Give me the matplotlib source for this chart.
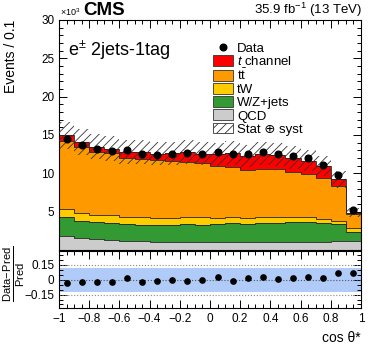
import numpy as np
import matplotlib
matplotlib.use("Agg")
import matplotlib.pyplot as plt
from matplotlib.patches import Patch
from matplotlib.lines import Line2D
from matplotlib.ticker import MultipleLocator, FuncFormatter

plt.rcParams['font.family'] = ['Liberation Sans', 'DejaVu Sans']
plt.rcParams['mathtext.fontset'] = 'custom'
plt.rcParams['mathtext.rm'] = 'Liberation Sans'
plt.rcParams['mathtext.it'] = 'Liberation Sans:italic'
plt.rcParams['hatch.linewidth'] = 0.6

# cos theta* bins (20 bins of 0.1), yields in units of 10^3
edges = np.linspace(-1, 1, 21)
qcd = [1.8, 1.6, 1.45, 1.3, 1.2, 1.1, 1.05, 1.0, 1.0, 1.0,
       1.0, 1.0, 0.98, 0.98, 0.98, 1.0, 1.0, 1.05, 1.1, 1.1]
wzjets = [2.55, 2.2, 2.2, 2.26, 2.18, 2.2, 2.21, 2.3, 2.38, 2.3,
          2.39, 2.45, 2.42, 2.54, 2.57, 2.68, 2.65, 2.45, 2.25, 1.29]
tw = [0.95, 0.98, 0.95, 0.94, 0.88, 0.96, 0.91, 0.9, 0.97, 0.96,
      0.74, 0.81, 0.73, 0.83, 0.71, 0.67, 0.61, 0.54, 0.39, 0.41]
ttbar = [8.9, 8.62, 8.15, 8.1, 7.69, 7.64, 7.53, 7.4, 7.15, 7.12,
         6.82, 6.52, 6.32, 6.15, 6.29, 5.85, 5.64, 5.31, 4.61, 1.85]
tchan = [0.75, 0.64, 0.7, 0.63, 0.82, 0.89, 0.86, 1.01, 1.29, 1.19,
         1.53, 1.87, 1.82, 2.02, 1.88, 1.85, 1.73, 1.54, 0.85, 0.23]
data = [14.43, 13.65, 13.13, 12.95, 13.04, 12.52, 12.43, 12.52, 12.61, 12.48,
        12.78, 12.52, 12.48, 12.82, 12.52, 12.22, 11.96, 11.12, 9.78, 5.22]
rel_unc = [0.12, 0.12, 0.12, 0.12, 0.12, 0.12, 0.12, 0.12, 0.12, 0.12,
           0.12, 0.12, 0.12, 0.12, 0.12, 0.12, 0.12, 0.12, 0.12, 0.12]

procs = [(qcd, '#cccccc', 'QCD'),
         (wzjets, '#339933', 'W/Z+jets'),
         (tw, '#ffcc00', 'tW'),
         (ttbar, '#ff9900', r'$\mathrm{t\bar{t}}$'),
         (tchan, '#ff0000', r'$t$ channel')]

fig = plt.figure(figsize=(3.74, 3.57), dpi=100)
ax = fig.add_axes([0.158, 0.300, 0.807, 0.644])
rx = fig.add_axes([0.158, 0.136, 0.807, 0.161])

centers = 0.5 * (edges[:-1] + edges[1:])
base = np.zeros(20)
for vals, col, lab in procs:
    top = base + np.array(vals)
    ax.stairs(top, edges, baseline=base, fill=True, color=col, zorder=2)
    ax.stairs(top, edges, baseline=None, color='#222222', lw=0.6, zorder=3)
    base = top
total = base
unc = np.array(rel_unc)
ax.stairs(total * (1 + unc), edges, baseline=total * (1 - unc), fill=True,
          facecolor='none', edgecolor='#333333', hatch='////', lw=0, zorder=4)
ax.plot(centers, data, 'o', color='k', ms=4.8, zorder=5)

ax.set_xlim(-1, 1)
ax.set_ylim(0, 30)
ax.set_yticks([5, 10, 15, 20, 25, 30])
ax.yaxis.set_minor_locator(MultipleLocator(1))
ax.xaxis.set_major_locator(MultipleLocator(0.2))
ax.xaxis.set_minor_locator(MultipleLocator(0.05))
ax.tick_params(labelbottom=False)
ax.set_ylabel('Events / 0.1', loc='top', fontsize=10)

# ratio panel
ratio = np.array(data) / total - 1
rx.stairs(unc, edges, baseline=-unc, fill=True, color='#b0cbf7', lw=0)
for yl in [0.15, -0.15]:
    rx.axhline(yl, color='#888888', ls=':', lw=0.8)
rx.axhline(0, color='#555555', ls=':', lw=0.8)
rx.plot(centers, ratio, 'o', color='k', ms=3.8, zorder=5)
rx.set_xlim(-1, 1)
rx.set_ylim(-0.29, 0.29)
rx.set_yticks([-0.15, 0, 0.15])
rx.yaxis.set_minor_locator(MultipleLocator(0.05))
rx.xaxis.set_major_locator(MultipleLocator(0.2))
rx.xaxis.set_minor_locator(MultipleLocator(0.05))
fmt = FuncFormatter(lambda v, p: ('%g' % round(v, 2)).replace('-', '\u2212'))
rx.xaxis.set_major_formatter(fmt)
rx.yaxis.set_major_formatter(fmt)
rx.set_xlabel('cos θ*', loc='right', fontsize=10)

for a in (ax, rx):
    a.tick_params(which='both', direction='in', top=True, right=True, labelsize=8.5, width=0.7)
    a.tick_params(which='major', length=6)
    a.tick_params(which='minor', length=3)
    for s in a.spines.values():
        s.set_linewidth(0.8)
ax.yaxis.set_label_coords(-0.135, 1.0)

# texts
fig.text(0.037, 0.232, r'$\frac{\mathrm{Data\!-\!Pred}}{\mathrm{Pred}}$', fontsize=11.5,
         rotation=90, ha='center', va='center')
fig.text(0.160, 0.950, r'$\times10^{3}$', fontsize=6.5, ha='left', va='bottom')
fig.text(0.222, 0.946, 'CMS', fontsize=13.5, fontweight='bold', ha='left', va='bottom')
fig.text(0.968, 0.948, r'35.9 fb$^{-1}$ (13 TeV)', fontsize=9.5, ha='right', va='bottom')
ax.text(0.03, 0.87, r'e$^{\pm}$ 2jets-1tag', transform=ax.transAxes, fontsize=13,
        ha='left', va='center')

handles = [Line2D([], [], marker='o', color='k', ls='', ms=4.8)]
labels = ['Data']
for vals, col, lab in procs[::-1]:
    handles.append(Patch(facecolor=col, edgecolor='#333333', lw=0.6))
    labels.append(lab)
handles.append(Patch(facecolor='white', edgecolor='#333333', hatch='////', lw=0.6))
labels.append('Stat ⊕ syst')
ax.legend(handles, labels, loc='upper left', bbox_to_anchor=(0.48, 0.945),
          frameon=False, fontsize=9.5, handlelength=1.5, handleheight=0.9,
          labelspacing=0.0, handletextpad=0.3, borderpad=0.2)

fig.savefig('out.png', dpi=100)
